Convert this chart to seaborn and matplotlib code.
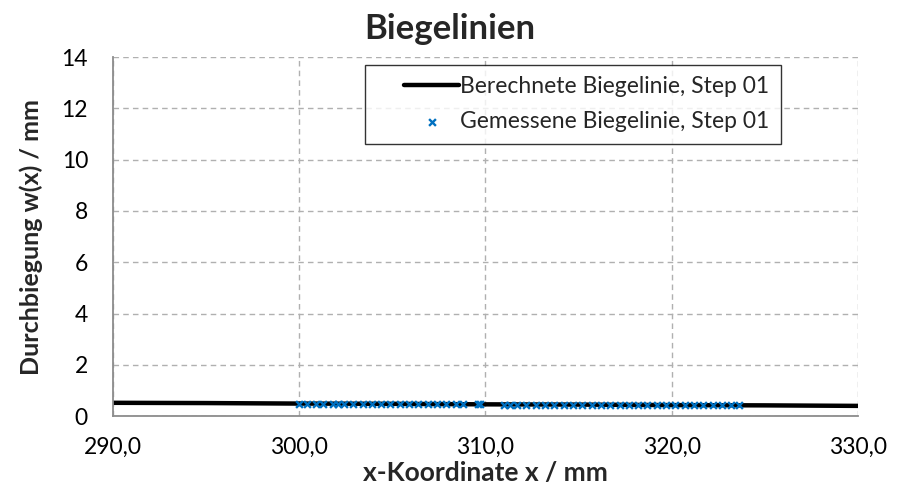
import matplotlib
matplotlib.use("Agg")
import matplotlib.pyplot as plt
from matplotlib.legend_handler import HandlerLine2D, HandlerPathCollection
import seaborn as sns
import pandas as pd

sns.set_style("white")
plt.rcParams['font.family'] = ['Lato', 'DejaVu Sans']

# Calculated deflection line
calc_x = [290, 295, 300, 305, 310, 315, 320, 325, 330]
calc_w = [0.52, 0.51, 0.49, 0.48, 0.46, 0.45, 0.43, 0.42, 0.40]

# Measured deflection points
meas_x = [300.0, 300.4, 300.9, 301.3, 301.8, 302.1, 302.4, 302.9, 303.4, 303.9,
          304.4, 304.9, 305.4, 305.9, 306.4, 306.9, 307.4, 307.9, 308.4, 308.8,
          309.6, 309.7,
          311.0, 311.3, 311.7, 312.2, 312.7, 313.2, 313.7, 314.2, 314.7, 315.2,
          315.7, 316.2, 316.7, 317.2, 317.7, 318.2, 318.7, 319.2, 319.7, 320.2,
          320.7, 321.2, 321.7, 322.2, 322.7, 323.2, 323.6]
meas_w = [0.49, 0.49, 0.49, 0.49, 0.48, 0.48, 0.48, 0.48, 0.48, 0.48,
          0.48, 0.47, 0.47, 0.47, 0.47, 0.47, 0.47, 0.46, 0.46, 0.46,
          0.46, 0.46,
          0.45, 0.45, 0.45, 0.45, 0.45, 0.45, 0.45, 0.44, 0.44, 0.44,
          0.44, 0.44, 0.44, 0.44, 0.43, 0.43, 0.43, 0.43, 0.43, 0.43,
          0.43, 0.42, 0.42, 0.42, 0.42, 0.42, 0.42]

x_ticks = [290, 300, 310, 320, 330]
x_labels = ["290,0", "300,0", "310,0", "320,0", "330,0"]
y_ticks = [0, 2, 4, 6, 8, 10, 12, 14]

calc_df = pd.DataFrame({"x": calc_x, "w": calc_w})
meas_df = pd.DataFrame({"x": meas_x, "w": meas_w})

fig = plt.figure(figsize=(9.04, 4.96), dpi=100)
ax = fig.add_axes([0.125, 0.161, 0.824, 0.724])

sns.lineplot(data=calc_df, x="x", y="w", ax=ax, color="black", linewidth=3.2,
             label="Berechnete Biegelinie, Step 01")
sns.scatterplot(data=meas_df, x="x", y="w", ax=ax, marker="x", color="#0070C0",
                s=24, linewidth=1.7, label="Gemessene Biegelinie, Step 01", zorder=3)

ax.set_xlim(290, 330)
ax.set_ylim(0, 14)
ax.set_xticks(x_ticks)
ax.set_xticklabels(x_labels)
ax.set_yticks(y_ticks)
ax.tick_params(axis="both", labelsize=16.5, length=6, width=1.2, direction="out")
ax.tick_params(axis="x", colors="#8c8c8c", labelcolor="black", pad=9)
ax.tick_params(axis="y", colors="#8c8c8c", labelcolor="black", pad=12)
ax.grid(True, color="#b0b0b0", linestyle=(0, (4, 3)), linewidth=1.0)
for s in ["top", "right"]:
    ax.spines[s].set_visible(False)
for s in ["left", "bottom"]:
    ax.spines[s].set_color("#8c8c8c")
    ax.spines[s].set_linewidth(1.3)

ax.set_xlabel("x-Koordinate x / mm", fontsize=19, fontweight="bold")
ax.xaxis.set_label_coords(0.5, -0.125)
ax.set_ylabel("Durchbiegung w(x) / mm", fontsize=18, fontweight="bold")
ax.yaxis.set_label_coords(-0.094, 0.5)
ax.set_title("Biegelinien", fontsize=25, fontweight="bold", pad=13, x=0.452)

handles, labels = ax.get_legend_handles_labels()
leg = ax.legend(handles, labels, loc="upper right", bbox_to_anchor=(0.897, 0.978),
                fontsize=16.5, frameon=True, fancybox=False, edgecolor="black",
                handlelength=3.6, handletextpad=0.05, borderpad=0.5,
                labelspacing=0.6, borderaxespad=0.0,
                handler_map={type(handles[0]): HandlerLine2D(xpad=1.2),
                             type(handles[1]): HandlerPathCollection(xpad=1.2)})
leg.get_frame().set_linewidth(1.0)

fig.savefig("out.png", dpi=100)
